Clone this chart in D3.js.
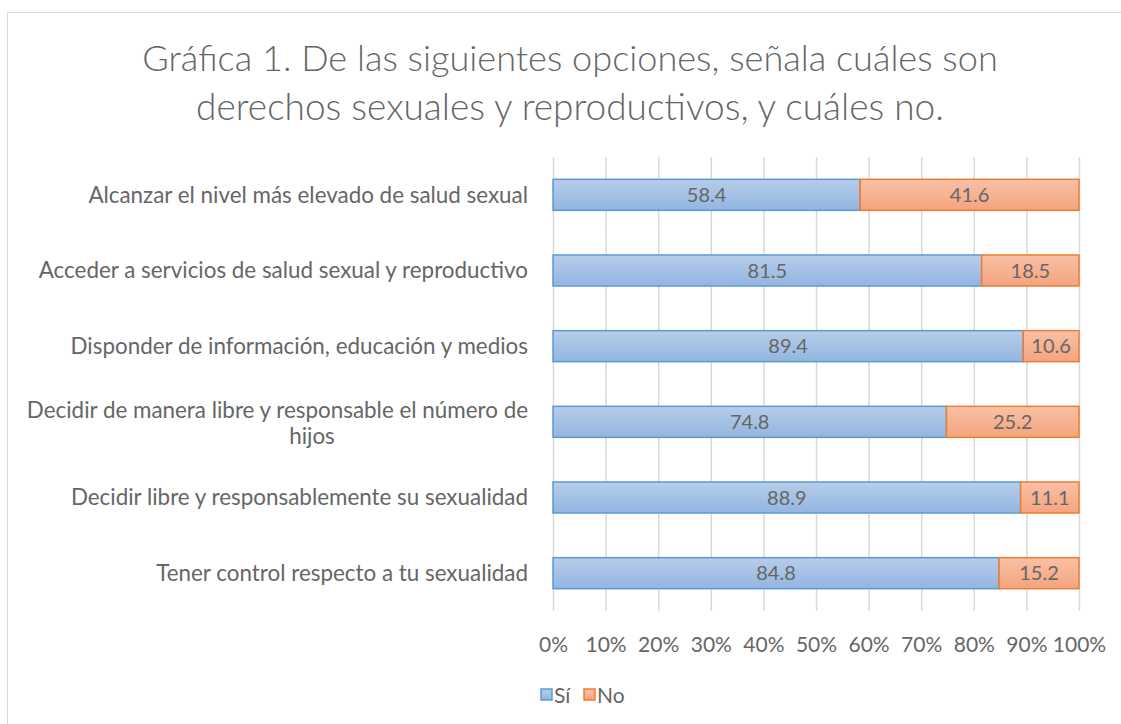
<!DOCTYPE html>
<html><head><meta charset="utf-8">
<script src="https://cdn.jsdelivr.net/npm/d3@7"></script>
<style>body{margin:0;background:#fff}svg{display:block}text{font-family:Lato,sans-serif}</style>
</head><body><svg id="c" width="1121" height="724"></svg>
<script>
const categories = [
  "Alcanzar el nivel más elevado de salud sexual",
  "Acceder a servicios de salud sexual y reproductivo",
  "Disponder de información, educación y medios",
  "Decidir de manera libre y responsable el número de hijos",
  "Decidir libre y responsablemente su sexualidad",
  "Tener control respecto a tu sexualidad"
];
const si = [58.4, 81.5, 89.4, 74.8, 88.9, 84.8];
const no = [41.6, 18.5, 10.6, 25.2, 11.1, 15.2];
const seriesNames = ["Sí", "No"];
const tickValues = [0,10,20,30,40,50,60,70,80,90,100];
const titleLines = ["Gráfica 1. De las siguientes opciones, señala cuáles son","derechos sexuales y reproductivos, y cuáles no."];

const svg = d3.select("#c");
const defs = svg.append("defs");
const gb = defs.append("linearGradient").attr("id","gb").attr("x1",0).attr("y1",0).attr("x2",0).attr("y2",1);
gb.append("stop").attr("offset","0%").attr("stop-color","#b7cdea");
gb.append("stop").attr("offset","100%").attr("stop-color","#93b5e0");
const go = defs.append("linearGradient").attr("id","go").attr("x1",0).attr("y1",0).attr("x2",0).attr("y2",1);
go.append("stop").attr("offset","0%").attr("stop-color","#f9c0a6");
go.append("stop").attr("offset","100%").attr("stop-color","#f4a47e");

svg.append("rect").attr("x",7.5).attr("y",12.5).attr("width",1125).attr("height",730)
  .attr("fill","#fff").attr("stroke","#d9d9d9");

const gray = "#666666";
// title
const tw = [856, 748];
titleLines.forEach((t,i)=>{
  const el = svg.append("text").attr("x",570).attr("y",[71,120][i]).attr("text-anchor","middle")
    .attr("fill",gray).attr("font-size",30).attr("font-weight",300).text(t);
  const w = el.node().getComputedTextLength();
  el.attr("font-size", 30*tw[i]/w);
});

const x = d3.scaleLinear().domain([0,100]).range([553,1079]);
const y = d3.scaleBand().domain(categories).range([157,611]).paddingInner(0.59).paddingOuter(0.295);

// grid
svg.append("g").selectAll("line").data(tickValues).join("line")
  .attr("x1",d=>x(d)+0.5).attr("x2",d=>x(d)+0.5).attr("y1",157).attr("y2",611)
  .attr("stroke","#d9d9d9").attr("stroke-width",1.5);

// axis labels
const xa = svg.append("g").attr("transform","translate(0,611)")
  .call(d3.axisBottom(x).tickValues(tickValues).tickFormat(d=>d+"%").tickSize(0).tickPadding(26));
xa.select(".domain").remove();
xa.selectAll("text").attr("fill",gray).attr("font-size",21).attr("font-family","Lato");

// bars
const g = svg.append("g");
categories.forEach((c,i)=>{
  const y0 = y(c), h = y.bandwidth();
  g.append("rect").attr("x",x(0)).attr("y",y0).attr("width",x(si[i])-x(0)).attr("height",h)
    .attr("fill","url(#gb)").attr("stroke","#5b9bd5").attr("stroke-width",1.5);
  g.append("rect").attr("x",x(si[i])).attr("y",y0).attr("width",x(si[i]+no[i])-x(si[i])).attr("height",h)
    .attr("fill","url(#go)").attr("stroke","#ed7d31").attr("stroke-width",1.5);
  g.append("text").attr("x",(x(0)+x(si[i]))/2).attr("y",y0+h/2).attr("dy","0.36em")
    .attr("text-anchor","middle").attr("fill",gray).attr("font-size",20).text(si[i].toFixed(1));
  g.append("text").attr("x",(x(si[i])+x(si[i]+no[i]))/2).attr("y",y0+h/2).attr("dy","0.36em")
    .attr("text-anchor","middle").attr("fill",gray).attr("font-size",20).text(no[i].toFixed(1));
});

// category labels
const lfs = 22.4;
categories.forEach((c,i)=>{
  const cy = y(c)+y.bandwidth()/2;
  if (c.length > 52) {
    const words = c.split(" ");
    const l1 = words.slice(0,-1).join(" "), l2 = words[words.length-1];
    svg.append("text").attr("x",528).attr("y",cy-12).attr("dy","0.35em").attr("text-anchor","end")
      .attr("fill",gray).attr("font-size",lfs).text(l1);
    svg.append("text").attr("x",528-216).attr("y",cy+14).attr("dy","0.35em").attr("text-anchor","middle")
      .attr("fill",gray).attr("font-size",lfs).text(l2);
  } else {
    svg.append("text").attr("x",528).attr("y",cy).attr("dy","0.35em").attr("text-anchor","end")
      .attr("fill",gray).attr("font-size",lfs).text(c);
  }
});

// legend
const lx = [541, 584];
seriesNames.forEach((s,i)=>{
  svg.append("rect").attr("x",lx[i]).attr("y",689).attr("width",11).attr("height",11)
    .attr("fill",i?"url(#go)":"url(#gb)").attr("stroke",i?"#ed7d31":"#5b9bd5").attr("stroke-width",1.5);
  svg.append("text").attr("x",lx[i]+13).attr("y",695).attr("dy","0.36em").attr("fill",gray)
    .attr("font-size",21).text(s);
});
</script></body></html>
